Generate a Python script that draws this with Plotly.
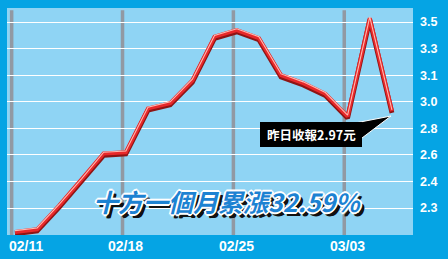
import numpy as np
import plotly.graph_objects as go

# ---------------- data ----------------
trading_day = list(range(18))
prices = [2.21, 2.22, 2.31, 2.41, 2.61, 2.62, 2.95, 2.99, 3.08, 3.39,
          3.44, 3.38, 3.10, 3.07, 3.03, 2.89, 3.53, 2.93]
y_levels = [2.3, 2.4, 2.6, 2.8, 3.0, 3.1, 3.3, 3.5]
y_labels = ["2.3", "2.4", "2.6", "2.8", "3.0", "3.1", "3.3", "3.5"]
week_idx = [0, 5, 10, 15]
week_labels = ["02/11", "02/18", "02/25", "03/03"]
title_text = "十方一個月累漲32.59%"
callout_text = "昨日收報2.97元"

# -------------- scale (chart uses evenly spaced, non-linear levels) --------------
lv = np.array(y_levels)
pos = np.arange(len(lv), dtype=float)


def to_grid(v):
    v = np.asarray(v, dtype=float)
    g = np.interp(v, lv, pos)
    lo = v < lv[0]
    hi = v > lv[-1]
    g[lo] = (v[lo] - lv[0]) / (lv[1] - lv[0])
    g[hi] = pos[-1] + (v[hi] - lv[-1]) / (lv[-1] - lv[-2])
    return g


g = to_grid(prices)

W, H = 448, 259
L, R, T, B = 7, 35, 8, 24
PX = 1 / 26.57  # one pixel in grid units

OUTER = "#05A4E4"
INNER = "#8FD4F4"

fig = go.Figure()
# shadow, body, highlight
fig.add_trace(go.Scatter(x=trading_day, y=g - 1.8 * PX, mode="lines",
                         line=dict(color="#8E1414", width=4.8), hoverinfo="skip"))
fig.add_trace(go.Scatter(x=trading_day, y=g, mode="lines",
                         line=dict(color="#E8282A", width=4), hoverinfo="skip"))
fig.add_trace(go.Scatter(x=trading_day, y=g + 1.3 * PX, mode="lines",
                         line=dict(color="#FFB9B0", width=1.1), hoverinfo="skip"))

x0, x1 = -0.36, 17.95
# vertical grey week bars
for i in week_idx:
    xb = max(i - 0.15, -0.32)
    fig.add_shape(type="line", xref="x", yref="paper", x0=xb, x1=xb, y0=0, y1=0.99,
                  line=dict(color="#9199A3", width=3.5), layer="between")

# x labels
for i, lab in zip(week_idx, week_labels):
    first = i == week_idx[0]
    fig.add_annotation(x=x0 if first else i, y=-0.048, xref="x", yref="paper",
                       text=lab, showarrow=False, xanchor="left" if first else "center",
                       yanchor="middle",
                       font=dict(family="Liberation Sans", size=14, color="white", weight="bold"))


def pp(px, py):
    return (px - L) / (W - L - R), (H - B - py) / (H - T - B)


# callout box and pointer
bx0, by0 = pp(260, 147)
bx1, by1 = pp(362, 122)
a = pp(350, 124)
b = pp(391, 116)
c = pp(362, 138)
fig.add_shape(type="path", xref="paper", yref="paper",
              path=f"M {a[0]},{a[1]} L {b[0]},{b[1]} L {c[0]},{c[1]} Z",
              fillcolor="black", line=dict(color="white", width=1), layer="above")
fig.add_shape(type="rect", xref="paper", yref="paper", x0=bx0, x1=bx1, y0=by0, y1=by1,
              fillcolor="black", line=dict(width=0), layer="above")
cx, cy = pp(311, 134.5)
fig.add_annotation(x=cx, y=cy, xref="paper", yref="paper", text=callout_text,
                   showarrow=False, xanchor="center", yanchor="middle",
                   font=dict(family="Noto Sans CJK TC", size=12.5, color="white", weight="bold"))

# big title
tx, ty = pp(227, 201)
fig.add_annotation(x=tx, y=ty, xref="paper", yref="paper", text=title_text,
                   showarrow=False, xanchor="center", yanchor="middle",
                   font=dict(family="Noto Sans CJK TC", size=25, color="#1C82D2",
                             weight="bold", style="italic",
                             shadow="1px 1px 0 #fff, -1px -1px 0 #fff, 1px -1px 0 #fff, -1px 1px 0 #fff, "
                                    "2px 0 0 #fff, 0 2px 0 #fff, -2px 0 0 #fff, 0 -2px 0 #fff, "
                                    "3px 3px 0 #111, 4px 4px 0 #111, 4px 3px 0 #111, 3px 4px 0 #111"))

fig.update_layout(
    width=W, height=H,
    margin=dict(l=L, r=R, t=T, b=B),
    paper_bgcolor=OUTER, plot_bgcolor=INNER,
    showlegend=False,
    xaxis=dict(range=[x0, x1], showgrid=False, zeroline=False, showticklabels=False,
               ticks="", fixedrange=True),
    yaxis=dict(range=[-1.016, 7.53], side="right", tickvals=list(pos), ticktext=y_labels,
               showgrid=True, gridcolor="white", gridwidth=1.3, zeroline=False,
               ticks="", ticklabelstandoff=6,
               tickfont=dict(family="Liberation Sans", size=12.5, color="white", weight="bold"),
               fixedrange=True),
)

fig.write_html("out.html")
